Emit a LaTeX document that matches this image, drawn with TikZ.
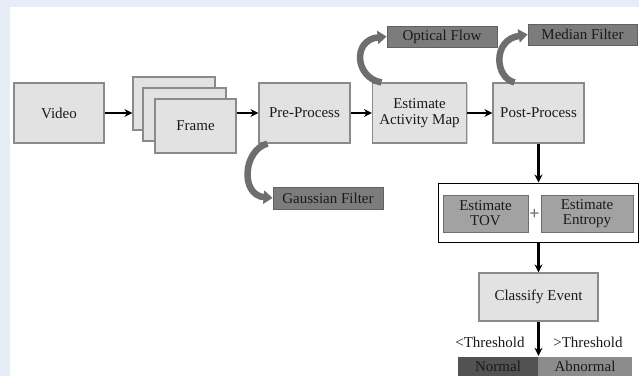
\documentclass[tikz,border=0pt]{standalone}
\usepackage{fontspec}
\setmainfont{Liberation Serif}
\usetikzlibrary{arrows.meta,shadows}
\definecolor{boxfill}{HTML}{E2E2E2}
\definecolor{boxline}{HTML}{8A8A8A}
\definecolor{darkfill}{HTML}{7C7C7C}
\definecolor{midfill}{HTML}{A2A2A2}
\definecolor{curvecol}{HTML}{6E6E6E}
\definecolor{wm}{HTML}{E6EDF7}
\definecolor{txt}{HTML}{1A1A1A}
\tikzset{
  every node/.style={font=\rmfamily\fontsize{15}{17}\selectfont, text=txt, align=center, inner sep=0pt},
  mainbox/.style={draw=boxline, line width=1.2pt, fill=boxfill,
     drop shadow={shadow xshift=1pt, shadow yshift=-1.2pt, opacity=0.35}},
  toolbox/.style={draw=boxline!70!black, line width=0.8pt, fill=darkfill,
     drop shadow={shadow xshift=1pt, shadow yshift=-1.2pt, opacity=0.3}},
  featbox/.style={draw=boxline!80!black, line width=0.8pt, fill=midfill},
  flow/.style={line width=2.4pt, -{Stealth[length=8pt,width=8pt]}},
  curvy/.style={line width=6.5pt, draw=curvecol, -{Triangle[length=9pt,width=13pt]}},
}
\begin{document}
\begin{tikzpicture}[x=1pt,y=-1pt]
\useasboundingbox (0,0) rectangle (639,376);
\fill[wm] (0,0) rectangle (639,376);
\fill[white] (10,7) rectangle (639,376);

\node[mainbox, minimum width=90pt, minimum height=60pt] (video) at (59,113) {Video};
\node[mainbox, minimum width=82pt, minimum height=53pt] (fb) at (174,103.5) {};
\node[mainbox, minimum width=83pt, minimum height=53pt] (fm) at (184.5,114.5) {};
\node[mainbox, minimum width=81pt, minimum height=54pt] (ff) at (195.5,126) {Frame};
\node[mainbox, minimum width=91pt, minimum height=60pt] (pre) at (304.5,113) {Pre-Process};
\node[mainbox, minimum width=94pt, minimum height=60pt] (eam) at (419.5,113) {Estimate\\[-1pt]Activity Map};
\node[mainbox, minimum width=91pt, minimum height=60pt] (post) at (538.5,113) {Post-Process};

\node[toolbox, minimum width=110pt, minimum height=21pt] (of) at (442,36.5) {Optical Flow};
\node[toolbox, minimum width=109pt, minimum height=21pt] (mf) at (582.5,34.5) {Median Filter};
\node[toolbox, minimum width=110pt, minimum height=22pt] (gf) at (328,198) {Gaussian Filter};

\node[draw=black, line width=1pt, fill=white, minimum width=200pt, minimum height=59pt] (outer) at (538,212.5) {};
\node[featbox, minimum width=85pt, minimum height=37pt] (tov) at (485.5,213.5) {Estimate\\[-2pt]TOV};
\node[featbox, minimum width=92pt, minimum height=37pt] (ent) at (587,213.5) {Estimate\\[-2pt]Entropy};
\node[text=curvecol, font=\fontsize{18}{18}\bfseries] (plus) at (534.5,214) {+};

\node[mainbox, minimum width=119pt, minimum height=48pt] (cls) at (538.5,297) {Classify Event};

\node[fill=black!68, minimum width=80pt, minimum height=19pt] (normal) at (498,366.5) {Normal};
\node[fill=black!45, minimum width=94pt, minimum height=19pt] (abn) at (585,366.5) {Abnormal};
\node (lt) at (490,342) {<Threshold};
\node (gt) at (588,342) {>Threshold};

\draw[flow] (video.east) -- (video.east -| fb.west);
\draw[flow] (pre.west -| ff.east) -- (pre.west);
\draw[flow] (pre.east) -- (eam.west);
\draw[flow] (eam.east) -- (post.west);
\draw[flow] (post.south) -- (post.south |- outer.north);
\draw[flow] (outer.south -| cls.north) -- (cls.north);
\draw[flow, shorten >=1pt] (cls.south) -- (cls.south |- normal.north);

\draw[curvy] ([xshift=-38pt]eam.north) .. controls (355,78) and (352,40) .. (of.west);
\draw[curvy] ([xshift=-24pt]post.north) .. controls (495,78) and (492,40) .. (mf.west);
\draw[curvy] ([xshift=-37pt]pre.south) .. controls (243,150) and (240,195) .. (gf.west);
\end{tikzpicture}
\end{document}
